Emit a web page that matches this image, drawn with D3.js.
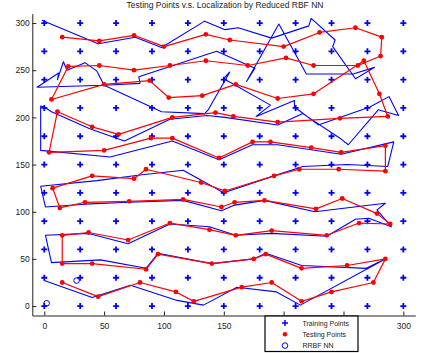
<!DOCTYPE html>
<html>
<head>
<meta charset="utf-8">
<script src="https://cdn.jsdelivr.net/npm/d3@7"></script>
<style>
  body { margin: 0; background: #fff; }
  svg { display: block; font-family: "Liberation Sans", Arial, sans-serif; }
</style>
</head>
<body>
<svg id="chart" width="425" height="353"></svg>
<script>
// training grid (both axes)
const gridValues = [0, 30, 60, 90, 120, 150, 180, 210, 240, 270, 300];

// testing points, in walking order
const testX = [15, 46, 75, 100, 135, 155, 200, 230, 260, 282,
  281, 262, 225, 202, 170, 135, 105, 75, 46, 20,
  6, 50, 88, 104, 132, 160, 195, 225, 267, 280, 287,
  247, 195, 158, 143, 107, 62, 40, 11,
  4, 50, 89, 107, 146, 174, 189, 223, 248, 285,
  285, 246, 213, 192, 151, 131, 85, 75, 40, 7,
  13, 34, 71, 116, 148, 159, 184, 227, 249, 278, 289,
  263, 236, 190, 160, 138, 105, 70, 37, 15,
  15, 40, 85, 95, 140, 175, 185, 215, 253, 285,
  275, 240, 215, 190, 165, 125, 110, 80, 45, 15];
const testY = [285, 281, 287, 275, 288, 282, 275, 290, 295, 285,
  265, 255, 255, 263, 255, 260, 255, 250, 255, 254,
  219, 235, 239, 221, 223, 235, 220, 225, 260, 225, 201,
  199, 195, 201, 205, 200, 182, 190, 206,
  163, 165, 178, 178, 157, 174, 174, 168, 163, 170,
  143, 145, 145, 138, 122, 131, 145, 135, 138, 125,
  104, 110, 111, 113, 105, 110, 112, 103, 114, 98, 87,
  88, 75, 80, 75, 81, 88, 70, 78, 75,
  45, 45, 39, 55, 45, 50, 55, 40, 43, 50,
  25, 15, 5, 25, 20, 5, 15, 25, 10, 25];

// localization by reduced RBF NN
const rbfX = [-2, 45, 76, 98, 134, 151, 162, 190, 221, 223, 243, 241, 260, 276,
  258, 219, 196, 169, 176, 144, 79, 80, 50, 44, 34, 19, 16, 11, 12, -6,
  50, 98, 134, 137, 155, 154, 150, 189, 177, 209, 209, 229, 272, 288, 296,
  279, 254, 248, 216, 195, 151, 136, 105, 67, 38, 6, 0, -3, -3,
  55, 107, 146, 174, 195, 248, 292, 287,
  253, 216, 192, 150, 116, 80, 44, -3, 1,
  34, 71, 116, 148, 159, 184, 226, 285, 278, 290,
  271, 260, 236, 190, 160, 138, 105, 70, 37, 1,
  6, 47, 85, 95, 140, 175, 185, 215, 269, 285,
  214, 194, 161, 133, 111, 72, 40, 0];
const rbfY = [303, 278, 285, 274, 302, 293, 295, 284, 297, 305, 282, 275, 241, 253,
  246, 246, 299, 238, 252, 270, 243, 236, 234, 249, 258, 250, 259, 240, 247, 232,
  234, 206, 204, 208, 248, 247, 241, 213, 201, 218, 211, 192, 211, 222, 202,
  208, 171, 177, 204, 192, 200, 202, 198, 175, 188, 206, 211, 212, 165,
  158, 175, 155, 171, 171, 161, 174, 148,
  150, 148, 138, 120, 144, 139, 133, 127, 105,
  108, 110, 112, 101, 107, 112, 100, 109, 102, 84,
  93, 92, 74, 77, 75, 84, 87, 66, 77, 75,
  46, 49, 40, 56, 45, 50, 56, 43, 40, 50,
  1, 15, 20, 1, 6, 22, 9, 27];

const circleX = [2, 27];
const circleY = [3, 27];

const xTicks = [0, 50, 100, 150, 200, 250, 300];
// 200 and 250 sit under the legend box in the original
const xTickLabels = ["0", "50", "100", "150", "", "", "300"];
const yTicks = [0, 50, 100, 150, 200, 250, 300];
const legendLabels = ["Training Points", "Testing Points", "RRBF NN"];
const titleText = "Testing Points v.s. Localization by Reduced RBF NN";

const svg = d3.select("#chart");
const x = d3.scaleLinear().domain([-10, 310]).range([32.3, 415.3]);
const y = d3.scaleLinear().domain([-10, 310]).range([315.5, 13.6]);

// axes, ticks pointing inward like matlab
svg.append("g")
    .attr("transform", "translate(0," + y(-10) + ")")
    .call(d3.axisBottom(x).tickValues(xTicks).tickFormat((d, i) => xTickLabels[i])
      .tickSizeInner(-4).tickSizeOuter(0).tickPadding(7))
    .call(g => g.select(".domain").attr("stroke", "#222"))
    .call(g => g.selectAll("line").attr("stroke", "#222"))
    .call(g => g.selectAll("text").attr("font-size", "8.5px").attr("fill", "#222"));

svg.append("g")
    .attr("transform", "translate(" + x(-10) + ",0)")
    .call(d3.axisLeft(y).tickValues(yTicks).tickSizeInner(-4).tickSizeOuter(0).tickPadding(2.5))
    .call(g => g.select(".domain").attr("stroke", "#222"))
    .call(g => g.selectAll("line").attr("stroke", "#222"))
    .call(g => g.selectAll("text").attr("font-size", "8.5px").attr("fill", "#222"));

svg.append("text")
    .attr("x", 225).attr("y", 8)
    .attr("text-anchor", "middle")
    .attr("font-size", "8.5px")
    .attr("fill", "#222")
    .text(titleText);

// training points grid
const grid = d3.cross(gridValues, gridValues);
svg.append("g").selectAll("path")
  .data(grid)
  .join("path")
    .attr("transform", d => "translate(" + x(d[0]) + "," + y(d[1]) + ")")
    .attr("d", "M-3,0H3M0,-3V3")
    .attr("stroke", "#0000ff")
    .attr("stroke-width", 1.8);

const line = d3.line().x(d => x(d[0])).y(d => y(d[1]));

// estimated path
svg.append("path")
    .datum(d3.zip(rbfX, rbfY))
    .attr("d", line)
    .attr("fill", "none")
    .attr("stroke", "#0000ff")
    .attr("stroke-width", 1.1)
    .attr("stroke-linejoin", "round");

// testing path
svg.append("path")
    .datum(d3.zip(testX, testY))
    .attr("d", line)
    .attr("fill", "none")
    .attr("stroke", "#ff0000")
    .attr("stroke-width", 1.2)
    .attr("stroke-linejoin", "round");

svg.append("g").selectAll("circle")
  .data(d3.zip(testX, testY))
  .join("circle")
    .attr("cx", d => x(d[0]))
    .attr("cy", d => y(d[1]))
    .attr("r", 2.4)
    .attr("fill", "#ff0000");

svg.append("g").selectAll("circle")
  .data(d3.zip(circleX, circleY))
  .join("circle")
    .attr("cx", d => x(d[0]))
    .attr("cy", d => y(d[1]))
    .attr("r", 2.8)
    .attr("fill", "none")
    .attr("stroke", "#0000ff")
    .attr("stroke-width", 1);

// legend
const legend = svg.append("g").attr("transform", "translate(265,316)");
legend.append("rect")
    .attr("width", 93).attr("height", 35.5)
    .attr("fill", "#fff")
    .attr("stroke", "#000")
    .attr("stroke-width", 1.2);

const rows = legend.selectAll("g.row")
  .data(legendLabels)
  .join("g")
    .attr("class", "row")
    .attr("transform", (d, i) => "translate(0," + (7 + i * 11.3) + ")");

rows.append("text")
    .attr("x", 37.5).attr("y", 2.5)
    .attr("font-size", "7px")
    .attr("fill", "#222")
    .text(d => d);

rows.filter((d, i) => i === 0).append("path")
    .attr("d", "M17,0H23M20,-3V3")
    .attr("stroke", "#0000ff").attr("stroke-width", 1.5);
rows.filter((d, i) => i === 1).append("circle")
    .attr("cx", 20).attr("r", 2.3).attr("fill", "#ff0000");
rows.filter((d, i) => i === 2).append("circle")
    .attr("cx", 20).attr("r", 2.8)
    .attr("fill", "none").attr("stroke", "#0000ff").attr("stroke-width", 1);
</script>
</body>
</html>
